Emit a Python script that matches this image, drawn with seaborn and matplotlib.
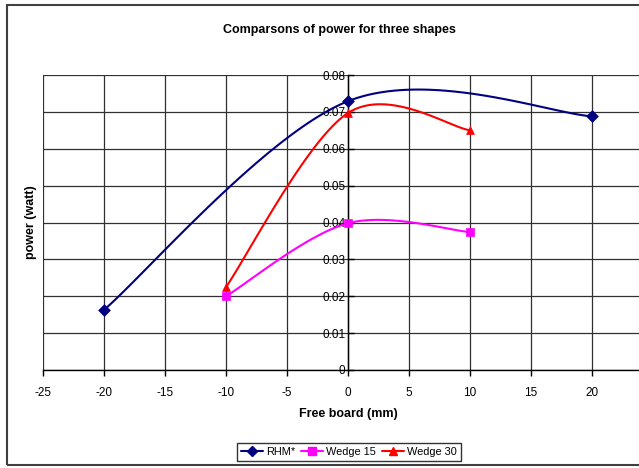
import numpy as np
import pandas as pd
import matplotlib
matplotlib.use("Agg")
import matplotlib.pyplot as plt
import seaborn as sns
from matplotlib.patches import Rectangle
from matplotlib import font_manager

# ---- data ----
rhm_x = [-20, 0, 20]
rhm_y = [0.0163, 0.0729, 0.0688]
w15_x = [-10, 0, 10]
w15_y = [0.0200, 0.0398, 0.0374]
w30_x = [-10, 0, 10]
w30_y = [0.0225, 0.0697, 0.0650]
series_names = ["RHM*", "Wedge 15", "Wedge 30"]
colors = ["#000080", "#FF00FF", "#FF0000"]
markers = ["D", "s", "^"]
xticks = [-25, -20, -15, -10, -5, 0, 5, 10, 15, 20]
yticks = [0, 0.01, 0.02, 0.03, 0.04, 0.05, 0.06, 0.07, 0.08]
ytick_labels = ["0", "0.01", "0.02", "0.03", "0.04", "0.05", "0.06", "0.07", "0.08"]

sns.set_theme(style="white")
names = {f.name for f in font_manager.fontManager.ttflist}
fam = ["Liberation Sans Narrow"] if "Liberation Sans Narrow" in names else []
plt.rcParams["font.family"] = fam + ["Liberation Sans", "DejaVu Sans"]
plt.rcParams.update({"text.color": "black", "axes.labelcolor": "black",
                     "xtick.color": "black", "ytick.color": "black"})
narrow = bool(fam)


def smooth(xs, ys, n=60):
    """Excel-like smoothed line (Catmull-Rom Bezier) through the points."""
    P = np.column_stack([xs, ys]).astype(float)
    P_ext = np.vstack([P[0], P, P[-1]])
    out = []
    for i in range(1, len(P_ext) - 2):
        p0, p1, p2, p3 = P_ext[i - 1], P_ext[i], P_ext[i + 1], P_ext[i + 2]
        c1 = p1 + (p2 - p0) / 6.0
        c2 = p2 - (p3 - p1) / 6.0
        t = np.linspace(0, 1, n)[:, None]
        b = ((1 - t) ** 3) * p1 + 3 * ((1 - t) ** 2) * t * c1 + 3 * (1 - t) * t ** 2 * c2 + t ** 3 * p2
        out.append(b if i == 1 else b[1:])
    out = np.vstack(out)
    return out[:, 0], out[:, 1]


fig = plt.figure(figsize=(6.39, 4.68), dpi=100)
ax = fig.add_axes([43 / 639, 1 - 370 / 468, 610 / 639, 295 / 468])

all_x = [rhm_x, w15_x, w30_x]
all_y = [rhm_y, w15_y, w30_y]
for name, xs, ys, c, m in zip(series_names, all_x, all_y, colors, markers):
    sx, sy = smooth(xs, ys)
    ax.plot(sx, sy, color=c, lw=1.5, zorder=3)
    df = pd.DataFrame({"x": xs, "y": ys})
    sns.scatterplot(data=df, x="x", y="y", ax=ax, color=c, marker=m,
                    s=36 if m != "^" else 32, edgecolor=c, linewidth=0.5, zorder=4)
    ax.plot([], [], color=c, marker=m, ms=6 if m != "D" else 5, lw=1.5, label=name)

for s in ["top", "right"]:
    ax.spines[s].set_visible(False)
ax.spines["left"].set_position(("data", 0))
ax.spines["left"].set_color("black")
ax.spines["left"].set_linewidth(1.0)
ax.spines["left"].set_zorder(2.5)
ax.spines["bottom"].set_color("black")
ax.spines["bottom"].set_linewidth(1.0)

fs = 9.5 if narrow else 8.5
ax.set_xlim(-25, 25)
ax.set_ylim(0, 0.08)
ax.set_xticks(xticks)
ax.set_xticklabels([str(t) for t in xticks], fontsize=fs, color="black")
ax.set_yticks(yticks)
ax.set_yticklabels(ytick_labels, fontsize=fs, color="black")
ax.grid(True, color="#303030", lw=0.9)
ax.set_axisbelow(True)
ax.tick_params(axis="y", direction="in", length=4, width=1, color="black", pad=2, left=True)
ax.tick_params(axis="x", direction="out", length=4, width=1, color="black", pad=8, bottom=True)

ax.set_xlabel("Free board (mm)", fontsize=fs + 0.5, fontweight="bold", labelpad=7, color="black")
ax.set_ylabel("")
fig.text(31 / 639, 1 - 222 / 468, "power (watt)", rotation=90, fontsize=fs + 0.5,
         fontweight="bold", ha="center", va="center", color="black")
fig.text(339 / 639, 1 - 30 / 468, "Comparsons of power for three shapes",
         fontsize=(10.2 if narrow else 9), fontweight="bold", ha="center", va="center",
         color="black")

leg = ax.legend(loc="center", bbox_to_anchor=(349 / 639, 1 - 452 / 468),
                bbox_transform=fig.transFigure, ncol=3, fontsize=fs - 0.6,
                frameon=True, fancybox=False, handlelength=2.0,
                columnspacing=0.5, handletextpad=0.3, borderpad=0.35)
leg.get_frame().set_edgecolor("black")
leg.get_frame().set_linewidth(1.0)
for t in leg.get_texts():
    t.set_color("black")

fig.patches.append(Rectangle((7 / 639, 3 / 468), 1.2, 1 - 8 / 468,
                             transform=fig.transFigure, fill=False,
                             edgecolor="#404040", lw=1.5))

fig.savefig("out.png", dpi=100)
